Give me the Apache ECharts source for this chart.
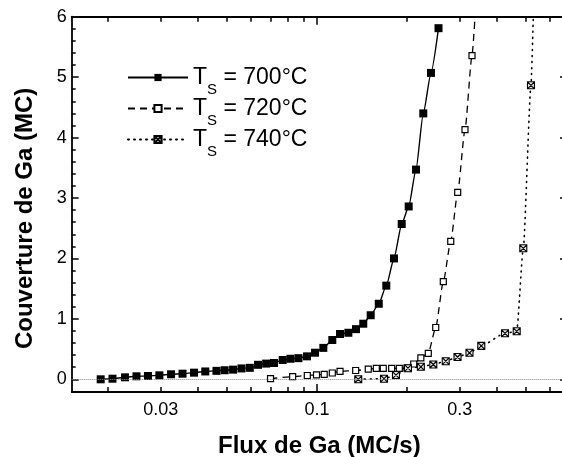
<!DOCTYPE html>
<html>
<head>
<meta charset="utf-8">
<script src="https://cdn.jsdelivr.net/npm/echarts@6/dist/echarts.min.js"></script>
<style>
  html, body { margin: 0; padding: 0; background: #fff; }
  #chart { width: 562px; height: 457px; }
</style>
</head>
<body>
<div id="chart"></div>
<script>
// Ga coverage (MC) versus Ga flux (MC/s) at three substrate temperatures
const flux700 = [0.0189, 0.0207, 0.0228, 0.0249, 0.0272, 0.0297, 0.0325, 0.0355, 0.0388, 0.0423,
                 0.0461, 0.0491, 0.0524, 0.0559, 0.0596, 0.0635, 0.0676, 0.0718, 0.0768, 0.0815,
                 0.0867, 0.0926, 0.0985, 0.105, 0.1125, 0.1194, 0.1273, 0.135, 0.1428, 0.1512,
                 0.1609, 0.1705, 0.1809, 0.192, 0.2026, 0.2143, 0.2267, 0.2406, 0.2549];
const cover700 = [0.0, 0.01, 0.033, 0.05, 0.055, 0.066, 0.083, 0.093, 0.11, 0.13,
                  0.14, 0.15, 0.16, 0.18, 0.19, 0.24, 0.26, 0.27, 0.32, 0.34,
                  0.35, 0.38, 0.44, 0.52, 0.65, 0.75, 0.77, 0.83, 0.92, 1.06,
                  1.25, 1.55, 2.0, 2.57, 2.86, 3.47, 4.40, 5.07, 5.81];

const flux720 = [0.0699, 0.0829, 0.0928, 0.0996, 0.1057, 0.1125, 0.1194, 0.1347, 0.1484, 0.1579,
                 0.1666, 0.1777, 0.1885, 0.200, 0.2106, 0.2225, 0.2356, 0.2495, 0.2645, 0.2801,
                 0.2955, 0.3126, 0.3299];
const cover720 = [0.01, 0.043, 0.063, 0.074, 0.083, 0.104, 0.132, 0.146, 0.167, 0.182,
                  0.182, 0.182, 0.182, 0.184, 0.253, 0.356, 0.43, 0.857, 1.615, 2.284,
                  3.094, 4.13, 5.355];
// the dashed curve carries on past its last marker up to the top of the frame
const tail720 = [0.3377, 6.0];

const flux740 = [0.1374, 0.1675, 0.1837, 0.2015, 0.2225, 0.2449, 0.2695, 0.2951, 0.3236, 0.3544,
                 0.4254, 0.4655, 0.4897, 0.5196];
const cover740 = [0.0, 0.01, 0.071, 0.184, 0.207, 0.245, 0.30, 0.369, 0.439, 0.554,
                  0.761, 0.794, 2.168, 4.865];
const tail740 = [0.5289, 6.0];

const seriesNames = ['700', '720', '740'];

// axis ticks and labels
const xLabelValues = [0.03, 0.1, 0.3];
const xMajorTicks = [0.1];
const xMinorTicks = [0.02, 0.03, 0.04, 0.05, 0.06, 0.07, 0.08, 0.09, 0.2, 0.3, 0.4, 0.5, 0.6];
const xRange = [0.01512, 0.6857];
const yLabelValues = [0, 1, 2, 3, 4, 5, 6];
const yRange = [-0.21, 6];

// flux is plotted on a log10 scale
const L = Math.log10;
const yMinorTicks = [];
for (let k = 1; k < 30; k++) { if (k % 5 !== 0) yMinorTicks.push(+(k * 0.2).toFixed(1)); }

function pts(xs, ys) { return xs.map((x, i) => [L(x), ys[i]]); }

const FONT = '"Liberation Sans", Arial, sans-serif';
const INK = '#000';
const TICK_W = 1.5;
const AXIS_W = 1.8;

// plot frame
const W = 562, H = 457;
const frame = { left: 71.7, right: -5, top: 16.7, bottom: 65 };
const frameW = W - frame.left - frame.right;
const frameH = H - frame.top - frame.bottom;

// open square with both diagonals
const crossBox = 'path://M0,0L10,0L10,10L0,10ZM0,0L10,10M10,0L0,10';

// frame lines, labels and titles
function xFrame(pos, extra) {
  return Object.assign({
    type: 'value', position: pos, min: L(xRange[0]), max: L(xRange[1]),
    axisLine: { show: true, onZero: false, lineStyle: { color: INK, width: AXIS_W } },
    axisTick: { show: false }, axisLabel: { show: false }, splitLine: { show: false }
  }, extra || {});
}
function yFrame(pos, extra) {
  return Object.assign({
    type: 'value', position: pos, min: yRange[0], max: yRange[1],
    axisLine: { show: true, onZero: false, lineStyle: { color: INK, width: AXIS_W } },
    axisTick: { show: false }, axisLabel: { show: false }, splitLine: { show: false }
  }, extra || {});
}
// tick rows: each one sits on the opposite edge, so its ticks point into the frame
function xTicks(edge, vals, len) {
  return {
    type: 'value', position: edge === 'bottom' ? 'top' : 'bottom', offset: -frameH,
    min: L(xRange[0]), max: L(xRange[1]),
    axisLine: { show: false, onZero: false },
    axisTick: { show: true, inside: false, length: len, customValues: vals.map(L),
                lineStyle: { color: INK, width: TICK_W } },
    axisLabel: { show: false }, splitLine: { show: false }
  };
}
function yTicks(edge, vals, len) {
  return {
    type: 'value', position: edge === 'left' ? 'right' : 'left', offset: -frameW,
    min: yRange[0], max: yRange[1],
    axisLine: { show: false, onZero: false },
    axisTick: { show: true, inside: false, length: len, customValues: vals,
                lineStyle: { color: INK, width: TICK_W } },
    axisLabel: { show: false }, splitLine: { show: false }
  };
}

const xAxes = [
  xFrame('bottom', {
    axisLabel: { show: true, customValues: xLabelValues.map(L), margin: 9,
                 fontFamily: FONT, fontSize: 18, color: INK,
                 formatter: v => String(Number(Math.pow(10, v).toPrecision(2))) },
    name: 'Flux de Ga (MC/s)', nameLocation: 'middle', nameGap: 42,
    nameTextStyle: { fontFamily: FONT, fontWeight: 'bold', fontSize: 24, color: INK }
  }),
  xFrame('top'),
  xTicks('bottom', xMinorTicks, 5),
  xTicks('bottom', xMajorTicks, 8),
  xTicks('top', xMinorTicks, 5),
  xTicks('top', xMajorTicks, 8)
];

const yAxes = [
  yFrame('left', {
    axisLabel: { show: true, customValues: yLabelValues, margin: 5,
                 fontFamily: FONT, fontSize: 18, color: INK },
    name: 'Couverture de Ga (MC)', nameLocation: 'middle', nameGap: 34,
    nameTextStyle: { fontFamily: FONT, fontWeight: 'bold', fontSize: 24, color: INK, padding: [0, 28, 0, 0] }
  }),
  yTicks('left', yLabelValues, 7),
  yTicks('left', yMinorTicks, 4),
  yTicks('right', yLabelValues, 7)
];

// one legend block per temperature, rows stacked down the upper left
const legendRows = [76, 107, 138];
const legendRich = {
  t: { fontFamily: FONT, fontSize: 23, color: INK, lineHeight: 40, verticalAlign: 'middle' },
  s: { fontFamily: FONT, fontSize: 15, color: INK, lineHeight: 2, verticalAlign: 'bottom' }
};
const legends = seriesNames.map((name, i) => ({
  data: [name], orient: 'vertical', left: 127, top: legendRows[i] - 10,
  itemWidth: 60, itemHeight: 9, selectedMode: false, padding: 0,
  formatter: n => '{t|T}{s|S}{t| = ' + n + '°C}',
  textStyle: { rich: legendRich }
}));

const chart = echarts.init(document.getElementById('chart'), null, { renderer: 'canvas' });
chart.setOption({
  backgroundColor: '#fff',
  animation: false,
  grid: Object.assign({ containLabel: false, outerBoundsMode: 'none' }, frame),
  xAxis: xAxes,
  yAxis: yAxes,
  legend: legends,
  series: [
    {
      name: seriesNames[0], type: 'line', data: pts(flux700, cover700),
      symbol: 'rect', symbolSize: 8, smooth: 0.2, smoothMonotone: 'x',
      itemStyle: { color: INK },
      lineStyle: { color: INK, width: 1.4, type: 'solid' },
      z: 4,
      markLine: {
        silent: true, symbol: ['none', 'none'], label: { show: false },
        lineStyle: { color: '#888', width: 1, type: [1, 1] },
        data: [{ yAxis: 0 }]
      }
    },
    {
      name: seriesNames[1], type: 'line',
      data: pts(flux720, cover720).concat([{ value: [L(tail720[0]), tail720[1]], symbol: 'none' }]),
      symbol: 'rect', symbolSize: 6, smooth: 0.2, smoothMonotone: 'x',
      itemStyle: { color: '#fff', borderColor: INK, borderWidth: 1.2 },
      lineStyle: { color: INK, width: 1.3, type: [7, 5] },
      z: 3
    },
    {
      name: seriesNames[2], type: 'line',
      data: pts(flux740, cover740).concat([{ value: [L(tail740[0]), tail740[1]], symbol: 'none' }]),
      symbol: crossBox, symbolSize: 7, smooth: 0.2, smoothMonotone: 'x',
      itemStyle: { color: '#e6e6e6', borderColor: INK, borderWidth: 1.1 },
      lineStyle: { color: INK, width: 1.6, type: [1, 5], cap: 'round' },
      z: 3
    }
  ]
});
</script>
</body>
</html>
